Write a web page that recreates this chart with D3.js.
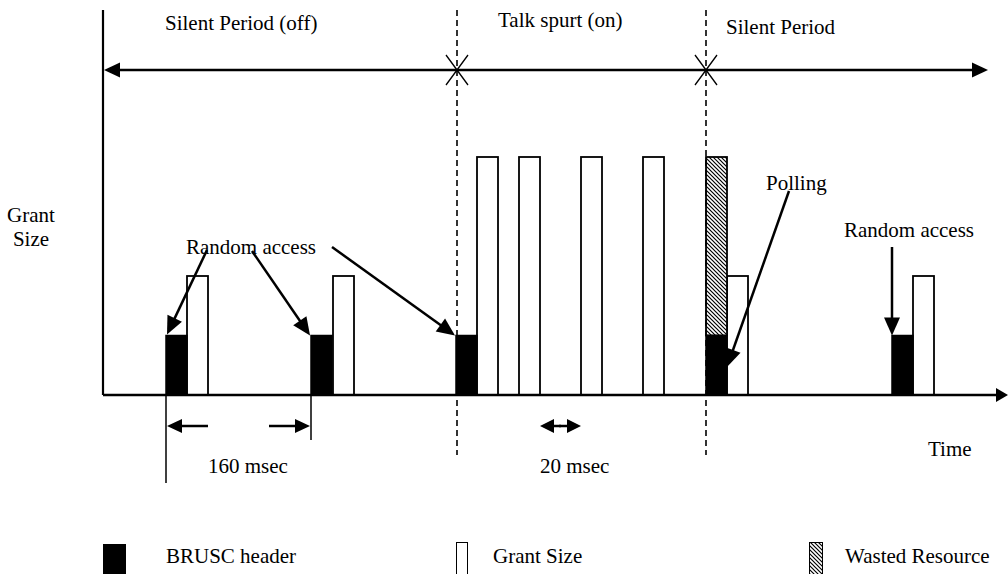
<!DOCTYPE html>
<html><head><meta charset="utf-8">
<script src="https://cdn.jsdelivr.net/npm/d3@7"></script>
<style>
body{margin:0;background:#fff}
svg{display:block}
text{font-family:"Liberation Serif","Times New Roman",serif;font-size:21px;fill:#000}
</style>
</head><body><svg id="c" width="1008" height="574"></svg>
<script>
// ---- data (time in notional units, size in header units) ----
const headerStart = [63, 208, 353, 603, 789];
const headerSize = 1;
const grantStart = [84, 230, 374, 416, 478, 540, 624, 810];
const grantSize = [2, 2, 4, 4, 4, 4, 2, 2];
const wastedStart = [603];
const wastedFrom = [1];
const wastedTo = [4];
const slotLength = 21;
const periodBounds = [354, 603];
const periodLabels = ["Silent Period (off)", "Talk spurt (on)", "Silent Period"];
const legendLabels = ["BRUSC header", "Grant Size", "Wasted Resource"];
const intervalLabels = ["160 msec", "20 msec"];

const svg = d3.select("#c");
const x = d3.scaleLinear().domain([0, 900]).range([103, 1003]);
const y = d3.scaleLinear().domain([0, 4]).range([395, 157]);

// hatch pattern
const defs = svg.append("defs");
const pat = defs.append("pattern").attr("id", "hatch").attr("patternUnits", "userSpaceOnUse")
  .attr("width", 4).attr("height", 4);
pat.append("rect").attr("width", 4).attr("height", 4).attr("fill", "#fff");
pat.append("path").attr("d", "M-1,-1 L5,5 M-1,3 L1,5 M3,-1 L5,1").attr("stroke", "#000").attr("stroke-width", 1.2);

function arrow(g, x1, y1, x2, y2, len = 14, hw = 6, sw = 2.5) {
  const dx = x2 - x1, dy = y2 - y1, L = Math.hypot(dx, dy), ux = dx / L, uy = dy / L;
  const bx = x2 - ux * len, by = y2 - uy * len;
  g.append("line").attr("x1", x1).attr("y1", y1).attr("x2", bx + ux * 1).attr("y2", by + uy * 1)
    .attr("stroke", "#000").attr("stroke-width", sw);
  g.append("polygon").attr("points",
    `${x2},${y2} ${bx - uy * hw},${by + ux * hw} ${bx + uy * hw},${by - ux * hw}`).attr("fill", "#000");
}

const g = svg.append("g");

// grant bars (white)
g.selectAll("rect.grant").data(grantStart).join("rect").attr("class", "grant")
  .attr("x", d => x(d)).attr("width", d => x(d + slotLength) - x(d))
  .attr("y", (d, i) => y(grantSize[i])).attr("height", (d, i) => y(0) - y(grantSize[i]))
  .attr("fill", "#fff").attr("stroke", "#000").attr("stroke-width", 1.8);

// wasted resource (hatched)
g.selectAll("rect.wasted").data(wastedStart).join("rect").attr("class", "wasted")
  .attr("x", d => x(d)).attr("width", d => x(d + slotLength) - x(d))
  .attr("y", (d, i) => y(wastedTo[i])).attr("height", (d, i) => y(wastedFrom[i]) - y(wastedTo[i]))
  .attr("fill", "url(#hatch)").attr("stroke", "#000").attr("stroke-width", 1.8);

// header bars (black)
g.selectAll("rect.header").data(headerStart).join("rect").attr("class", "header")
  .attr("x", d => x(d)).attr("width", d => x(d + slotLength) - x(d))
  .attr("y", y(headerSize)).attr("height", y(0) - y(headerSize))
  .attr("fill", "#000").attr("stroke", "#000").attr("stroke-width", 1.5);

// dashed period boundaries
g.selectAll("line.bound").data(periodBounds).join("line").attr("class", "bound")
  .attr("x1", d => x(d)).attr("x2", d => x(d)).attr("y1", 10).attr("y2", 455)
  .attr("stroke", "#000").attr("stroke-width", 1.6).attr("stroke-dasharray", "6,4");

// axes
g.append("line").attr("x1", x(0)).attr("x2", x(0)).attr("y1", 10).attr("y2", y(0))
  .attr("stroke", "#000").attr("stroke-width", 2.2);
arrow(g, x(0), y(0), 1008, y(0), 12, 7, 2.5);

// top period double arrow
arrow(g, 500, 70, x(0) + 1, 70, 16, 7.5, 2.5);
arrow(g, 500, 70, 988, 70, 16, 7.5, 2.5);
periodBounds.forEach(b => {
  g.append("path").attr("d", `M${x(b) - 11},55 L${x(b) + 11},85 M${x(b) + 11},55 L${x(b) - 11},85`)
    .attr("stroke", "#000").attr("stroke-width", 1.3).attr("fill", "none");
});

// period labels
const periodPos = [[165, 30], [498, 27], [726, 34]];
periodLabels.forEach((t, i) => g.append("text").attr("x", periodPos[i][0]).attr("y", periodPos[i][1]).text(t));

// y label
g.append("text").attr("x", 31).attr("y", 222).attr("text-anchor", "middle").text("Grant");
g.append("text").attr("x", 31).attr("y", 246).attr("text-anchor", "middle").text("Size");

// annotations
g.append("text").attr("x", 186).attr("y", 254).text("Random access");
arrow(g, 207, 250, x(headerStart[0]) + 1, y(headerSize) - 1, 18, 8, 2.5);
arrow(g, 252, 251, x(headerStart[1]) - 1, y(headerSize), 18, 8, 2.5);
arrow(g, 332, 247, x(headerStart[2]) - 1, y(headerSize), 18, 8, 2.5);

g.append("text").attr("x", 766).attr("y", 190).text("Polling");
arrow(g, 789, 191, x(headerStart[3] + slotLength), 367, 18, 8, 2.5);

g.append("text").attr("x", 844).attr("y", 237).text("Random access");
arrow(g, x(headerStart[4]), 247, x(headerStart[4]), y(headerSize), 18, 8, 2.5);

// interval dimensions
g.append("line").attr("x1", x(headerStart[0])).attr("x2", x(headerStart[0])).attr("y1", y(0)).attr("y2", 483)
  .attr("stroke", "#000").attr("stroke-width", 1.5);
g.append("line").attr("x1", x(headerStart[1])).attr("x2", x(headerStart[1])).attr("y1", y(0)).attr("y2", 440)
  .attr("stroke", "#000").attr("stroke-width", 1.5);
arrow(g, 208, 426, x(headerStart[0]) + 1, 426, 15, 7, 2.5);
arrow(g, 269, 426, x(headerStart[1]) - 1, 426, 15, 7, 2.5);
arrow(g, 561, 426, x(437), 426, 14, 7, 2.5);
arrow(g, 559, 426, x(grantStart[4]), 426, 14, 7, 2.5);
g.append("text").attr("x", 208).attr("y", 473).text(intervalLabels[0]);
g.append("text").attr("x", 540).attr("y", 473).text(intervalLabels[1]);
g.append("text").attr("x", 928).attr("y", 456).text("Time");

// legend
const lg = svg.append("g");
lg.append("rect").attr("x", 103).attr("y", 544).attr("width", 23).attr("height", 31).attr("fill", "#000");
lg.append("rect").attr("x", 456.5).attr("y", 542.5).attr("width", 11).attr("height", 32).attr("fill", "#fff").attr("stroke", "#000").attr("stroke-width", 1);
lg.append("rect").attr("x", 809.5).attr("y", 542.5).attr("width", 13).attr("height", 32).attr("fill", "url(#hatch)").attr("stroke", "#000").attr("stroke-width", 1);
const legX = [166, 493, 845];
legendLabels.forEach((t, i) => lg.append("text").attr("x", legX[i]).attr("y", 563).text(t));
</script>
</body></html>
